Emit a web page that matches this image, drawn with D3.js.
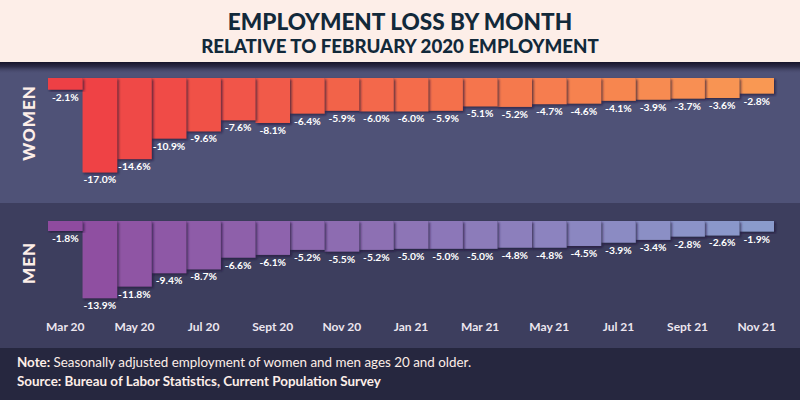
<!DOCTYPE html>
<html>
<head>
<meta charset="utf-8">
<script src="https://cdn.jsdelivr.net/npm/d3@7"></script>
<style>
  body { margin: 0; background: #26273f; }
  svg { display: block; }
</style>
</head>
<body>
<svg id="chart" width="800" height="400"></svg>
<script>
// EMPLOYMENT LOSS BY MONTH

var months = ["Mar 20", "Apr 20", "May 20", "Jun 20", "Jul 20", "Aug 20", "Sept 20",
  "Oct 20", "Nov 20", "Dec 20", "Jan 21", "Feb 21", "Mar 21", "Apr 21", "May 21",
  "Jun 21", "Jul 21", "Aug 21", "Sept 21", "Oct 21", "Nov 21"];
var tickLabels = ["Mar 20", "May 20", "Jul 20", "Sept 20", "Nov 20", "Jan 21",
  "Mar 21", "May 21", "Jul 21", "Sept 21", "Nov 21"];
var women = [-2.1, -17.0, -14.6, -10.9, -9.6, -7.6, -8.1, -6.4, -5.9, -6.0, -6.0,
  -5.9, -5.1, -5.2, -4.7, -4.6, -4.1, -3.9, -3.7, -3.6, -2.8];
var men = [-1.8, -13.9, -11.8, -9.4, -8.7, -6.6, -6.1, -5.2, -5.5, -5.2, -5.0,
  -5.0, -5.0, -4.8, -4.8, -4.5, -3.9, -3.4, -2.8, -2.6, -1.9];

var svg = d3.select("#chart");
var defs = svg.append("defs");

// shadows
var f = defs.append("filter").attr("id", "barShadow")
  .attr("x", "-10%").attr("y", "-10%").attr("width", "130%").attr("height", "130%");
f.append("feDropShadow")
  .attr("dx", 1.5).attr("dy", 1.5).attr("stdDeviation", 0.8)
  .attr("flood-color", "#1a1830").attr("flood-opacity", 0.7);

var g1 = defs.append("linearGradient").attr("id", "titleShadow")
  .attr("x1", 0).attr("y1", 0).attr("x2", 0).attr("y2", 1);
g1.append("stop").attr("offset", "0%").attr("stop-color", "#16142a").attr("stop-opacity", 1);
g1.append("stop").attr("offset", "40%").attr("stop-color", "#24223d").attr("stop-opacity", 0.8);
g1.append("stop").attr("offset", "100%").attr("stop-color", "#4f5277").attr("stop-opacity", 0);

// backgrounds
svg.append("rect").attr("x", 0).attr("y", 0).attr("width", 800).attr("height", 203).attr("fill", "#4f5277");
svg.append("rect").attr("x", 0).attr("y", 203).attr("width", 800).attr("height", 145).attr("fill", "#3d3e5e");
svg.append("rect").attr("x", 0).attr("y", 348).attr("width", 800).attr("height", 52).attr("fill", "#26273f");
svg.append("rect").attr("x", 0).attr("y", 62).attr("width", 800).attr("height", 12).attr("fill", "url(#titleShadow)");
svg.append("rect").attr("x", 0).attr("y", 0).attr("width", 800).attr("height", 62).attr("fill", "#fdeee8");

// title
svg.append("text")
  .attr("x", 400).attr("y", 29.5)
  .attr("text-anchor", "middle")
  .style("font-family", "Lato")
  .style("font-weight", 900)
  .style("font-size", "22.6px")
  .attr("fill", "#12293a")
  .text("EMPLOYMENT LOSS BY MONTH");
svg.append("text")
  .attr("x", 400).attr("y", 53)
  .attr("text-anchor", "middle")
  .style("font-family", "Lato")
  .style("font-weight", 900)
  .style("font-size", "18.7px")
  .attr("fill", "#12293a")
  .text("RELATIVE TO FEBRUARY 2020 EMPLOYMENT");

var x = d3.scaleBand().domain(months).range([48, 774]).padding(0);

function drawPanel(values, top, label, labelY, colorFrom, colorTo) {
  var y = d3.scaleLinear().domain([0, -17]).range([top, top + 94.4]);
  var color = d3.scaleLinear().domain([0, months.length - 1])
    .range([colorFrom, colorTo]).interpolate(d3.interpolateRgb);

  var data = values.map(function (v, i) {
    return { month: months[i], value: v, i: i };
  });

  var g = svg.append("g");
  // drawn right to left so each shadow falls on the next bar
  g.selectAll("rect")
    .data(data.slice().reverse())
    .enter()
    .append("rect")
    .attr("x", function (d) { return x(d.month); })
    .attr("width", x.bandwidth())
    .attr("y", y(0))
    .attr("height", function (d) { return y(d.value) - y(0); })
    .attr("fill", function (d) { return color(d.i); })
    .attr("filter", "url(#barShadow)");

  g.selectAll("text.val")
    .data(data)
    .enter()
    .append("text")
    .attr("class", "val")
    .attr("x", function (d) { return x(d.month) + x.bandwidth() / 2; })
    .attr("y", function (d) { return y(d.value) + 11; })
    .attr("text-anchor", "middle")
    .style("font-family", "Lato")
    .style("font-weight", 700)
    .style("font-size", "10.3px")
    .attr("fill", "#ffffff")
    .text(function (d) { return d.value.toFixed(1) + "%"; });

  svg.append("text")
    .attr("transform", "translate(35," + labelY + ") rotate(-90)")
    .attr("text-anchor", "middle")
    .style("font-family", "Lato")
    .style("font-weight", 900)
    .style("font-size", "17px")
    .style("letter-spacing", "1px")
    .attr("fill", "#fdeee8")
    .text(label);
}

drawPanel(women, 78, "WOMEN", 123, "#ee3f44", "#f99853");
drawPanel(men, 221, "MEN", 263, "#8f4c9f", "#8a9bcc");

// x axis
var xAxis = svg.append("g")
  .attr("class", "myXaxis")
  .attr("transform", "translate(0,322)")
  .call(d3.axisBottom(x).tickValues(tickLabels).tickSize(0).tickPadding(0));
xAxis.select(".domain").remove();
xAxis.selectAll("text")
  .style("font-family", "Lato")
  .style("font-weight", 700)
  .style("font-size", "12px")
  .attr("fill", "#ece6ef");

// footer
var note = svg.append("text")
  .attr("x", 17).attr("y", 367)
  .style("font-family", "Lato")
  .style("font-size", "13.4px")
  .attr("fill", "#fdeee8");
note.append("tspan").style("font-weight", 700).text("Note: ");
note.append("tspan").text("Seasonally adjusted employment of women and men ages 20 and older.");

svg.append("text")
  .attr("x", 17).attr("y", 386)
  .style("font-family", "Lato")
  .style("font-weight", 700)
  .style("font-size", "13.4px")
  .attr("fill", "#fdeee8")
  .text("Source: Bureau of Labor Statistics, Current Population Survey");
</script>
</body>
</html>
